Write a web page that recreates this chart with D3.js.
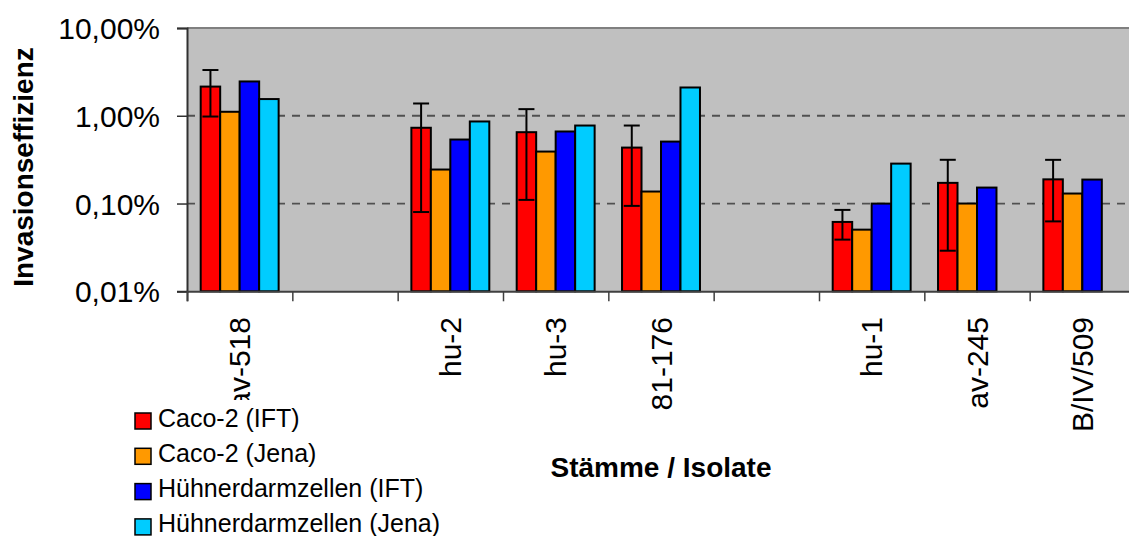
<!DOCTYPE html>
<html>
<head>
<meta charset="utf-8">
<script src="https://cdn.jsdelivr.net/npm/d3@7/dist/d3.min.js"></script>
<style>
  html, body { margin: 0; padding: 0; background: #fff; }
  svg { display: block; font-family: "Liberation Sans", Arial, sans-serif; }
</style>
</head>
<body>
<svg id="chart" width="1129" height="536"></svg>
<script>
// Strains / isolates (empty strings are spacer slots between groups)
const categories = ["av-518", "", "hu-2", "hu-3", "81-176", "", "hu-1", "av-245", "B/IV/509"];
const seriesNames = ["Caco-2 (IFT)", "Caco-2 (Jena)", "Hühnerdarmzellen (IFT)", "Hühnerdarmzellen (Jena)"];
const seriesColors = ["#ff0000", "#ff9900", "#0000ff", "#00ccff"];

// Invasion efficiency in percent (null = no measurement)
const cacoIFT   = [2.15, null, 0.73, 0.65, 0.434, null, 0.0617, 0.172, 0.1886];
const cacoJena  = [1.11, null, 0.244, 0.391, 0.137, null, 0.0504, 0.100, 0.130];
const chickIFT  = [2.46, null, 0.536, 0.662, 0.508, null, 0.0998, 0.152, 0.1875];
const chickJena = [1.55, null, 0.861, 0.774, 2.10, null, 0.285, null, null];

// Standard deviation for Caco-2 (IFT)
const cacoIFTErr = [1.17, null, 0.65, 0.54, 0.34, null, 0.0229, 0.143, 0.126];

const yTicks = [10, 1, 0.1, 0.01];
const yTickLabels = ["10,00%", "1,00%", "0,10%", "0,01%"];

const series = [cacoIFT, cacoJena, chickIFT, chickJena];

const svg = d3.select("#chart");
const plot = { left: 187, right: 1135, top: 28, bottom: 291.3 };

const x = d3.scaleBand().domain(d3.range(categories.length)).range([plot.left, plot.right]).padding(0);
const groupWidth = x.bandwidth() * 0.74;
const xs = d3.scaleBand().domain(d3.range(series.length)).range([0, groupWidth]).padding(0);
const y = d3.scaleLog().domain([0.01, 10]).range([plot.bottom, plot.top]);

// plot background
svg.append("rect")
  .attr("x", plot.left).attr("y", plot.top)
  .attr("width", plot.right - plot.left).attr("height", plot.bottom - plot.top)
  .attr("fill", "#c0c0c0");
svg.append("line")
  .attr("x1", plot.left).attr("x2", plot.right)
  .attr("y1", plot.top).attr("y2", plot.top)
  .attr("stroke", "#808080").attr("stroke-width", 2);

// dashed gridlines
svg.append("g").selectAll("line")
  .data([1, 0.1])
  .join("line")
  .attr("x1", plot.left).attr("x2", plot.right)
  .attr("y1", d => y(d)).attr("y2", d => y(d))
  .attr("stroke", "#505050").attr("stroke-width", 1.8)
  .attr("stroke-dasharray", "8,7");

// bars
const groups = svg.append("g").selectAll("g")
  .data(categories.map((c, i) => i))
  .join("g")
  .attr("transform", i => `translate(${x(i) + (x.bandwidth() - groupWidth) / 2},0)`);

groups.selectAll("rect")
  .data(i => series.map((s, k) => ({ k, v: s[i] })).filter(d => d.v != null))
  .join("rect")
  .attr("x", d => xs(d.k))
  .attr("width", xs.bandwidth())
  .attr("y", d => y(d.v))
  .attr("height", d => plot.bottom - y(d.v))
  .attr("fill", d => seriesColors[d.k])
  .attr("stroke", "#000")
  .attr("stroke-width", 2);

// error bars on Caco-2 (IFT)
const errG = svg.append("g");
cacoIFT.forEach((v, i) => {
  if (v == null || cacoIFTErr[i] == null) return;
  const cx = x(i) + (x.bandwidth() - groupWidth) / 2 + xs(0) + xs.bandwidth() / 2;
  const lo = y(v - cacoIFTErr[i]);
  const hi = y(v + cacoIFTErr[i]);
  const cap = 8;
  errG.append("line").attr("x1", cx).attr("x2", cx).attr("y1", lo).attr("y2", hi)
    .attr("stroke", "#000").attr("stroke-width", 2);
  [lo, hi].forEach(yy => errG.append("line")
    .attr("x1", cx - cap).attr("x2", cx + cap).attr("y1", yy).attr("y2", yy)
    .attr("stroke", "#000").attr("stroke-width", 2));
});

// y axis
const yAxis = d3.axisLeft(y).tickValues(yTicks).tickSize(10)
  .tickFormat((d, i) => yTickLabels[i]);
const gy = svg.append("g").attr("transform", `translate(${plot.left},0)`).call(yAxis);
gy.select(".domain").attr("stroke", "#303030").attr("stroke-width", 2);
gy.selectAll(".tick line").attr("stroke", "#303030").attr("stroke-width", 1.5);
gy.selectAll(".tick text")
  .attr("x", -27).attr("dy", "0.35em")
  .attr("fill", "#000")
  .style("font-size", "30px")
  .style("font-family", "'Liberation Sans', Arial, sans-serif");

// x axis (ticks at slot boundaries)
const xBounds = d3.range(categories.length + 1).map(i => plot.left + i * x.bandwidth());
const xb = d3.scaleLinear().domain([plot.left, plot.right]).range([plot.left, plot.right]);
const xAxis = d3.axisBottom(xb).tickValues(xBounds).tickSize(10).tickFormat("");
const gx = svg.append("g").attr("transform", `translate(0,${plot.bottom})`).call(xAxis);
gx.select(".domain").attr("stroke", "#404040").attr("stroke-width", 2);
gx.selectAll(".tick line").attr("stroke", "#404040").attr("stroke-width", 1.5);

// category labels
svg.append("g").selectAll("text")
  .data(categories.map((c, i) => ({ c, i })).filter(d => d.c))
  .join("text")
  .attr("transform", d => `translate(${x(d.i) + x.bandwidth() / 2 + 10.5},317) rotate(-90)`)
  .attr("text-anchor", "end")
  .style("font-size", "30px")
  .text(d => d.c);

// axis titles
svg.append("text")
  .attr("transform", "translate(33,167) rotate(-90)")
  .attr("text-anchor", "middle")
  .style("font-size", "28px").style("font-weight", "bold")
  .text("Invasionseffizienz");

svg.append("text")
  .attr("x", 661).attr("y", 477)
  .attr("text-anchor", "middle")
  .style("font-size", "28px").style("font-weight", "bold")
  .text("Stämme / Isolate");

// legend
const legend = svg.append("g");
legend.append("rect")
  .attr("x", 128).attr("y", 400).attr("width", 360).attr("height", 140)
  .attr("fill", "#fff");
const items = legend.selectAll("g.item")
  .data(seriesNames.map((n, k) => ({ n, k })))
  .join("g")
  .attr("class", "item")
  .attr("transform", d => `translate(135,${413 + d.k * 35.3})`);
items.append("rect")
  .attr("width", 16).attr("height", 16)
  .attr("fill", d => seriesColors[d.k])
  .attr("stroke", "#000").attr("stroke-width", 1.5);
items.append("text")
  .attr("x", 23).attr("y", 13.5)
  .style("font-size", "25px")
  .text(d => d.n);
</script>
</body>
</html>
